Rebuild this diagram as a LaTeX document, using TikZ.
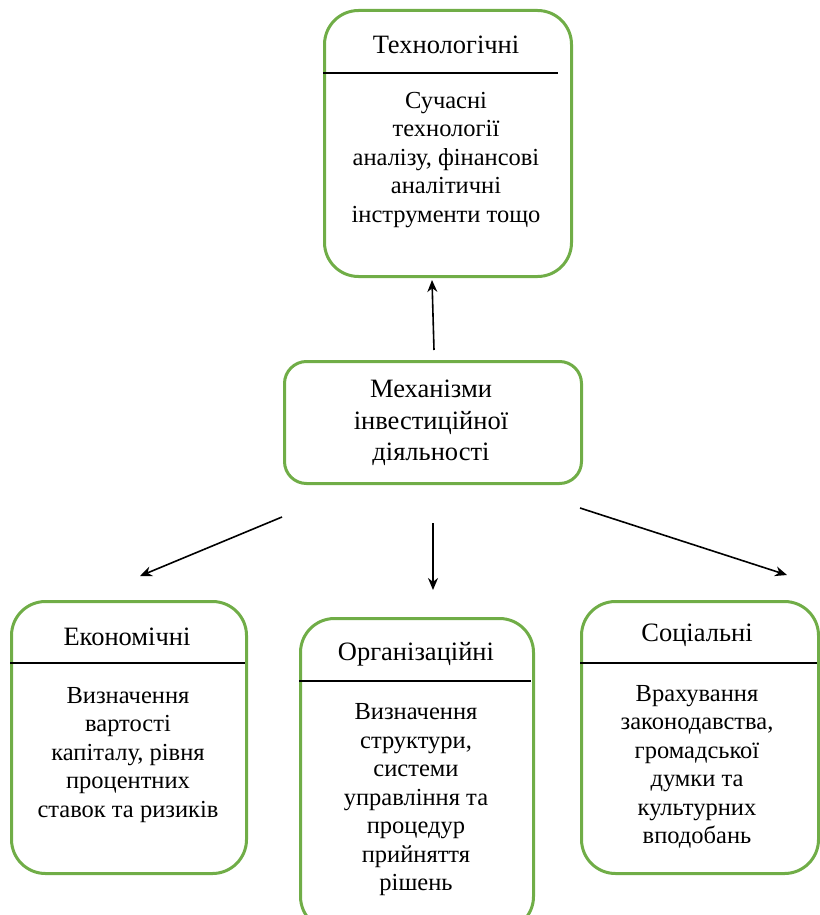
\documentclass[tikz,border=0pt]{standalone}
\usepackage{fontspec}
\setmainfont{Liberation Serif}
\usepackage{tikz}
\usetikzlibrary{arrows.meta}

\definecolor{boxgreen}{RGB}{112,173,71}

\tikzset{
  box/.style = {draw = boxgreen, line width = 3pt, rounded corners = 34pt, anchor = north west, inner sep = 0pt},
  txt/.style = {align = center, font = \fontsize{24.5}{28.5}\selectfont, inner sep = 0pt},
  ttl/.style = {txt, font = \fontsize{26.5}{30}\selectfont},
  sep/.style = {line width = 1.5pt},
  arr/.style = {line width = 1.6pt, -{Stealth[length = 12pt, width = 10pt]}}
}

\begin{document}
\begin{tikzpicture}[x = 1pt, y = -1pt]
\useasboundingbox (0,0) rectangle (819,915);
% boxes
\node[box, minimum width = 247pt, minimum height = 266pt] (tech) at (323,9) {};
\node[box, rounded corners = 22pt, minimum width = 297pt, minimum height = 122pt] (mech) at (283,360) {};
\node[box, minimum width = 235pt, minimum height = 272pt] (econ) at (10,600) {};
\node[box, minimum width = 233pt, minimum height = 312pt] (org) at (299,617) {};
\node[box, minimum width = 237pt, minimum height = 272pt] (soc) at (580,600) {};
% dividers
\draw[sep] (323,73) -- (558,73);
\draw[sep] (10,663) -- (245,663);
\draw[sep] (299,681) -- (531,681);
\draw[sep] (580,663) -- (817,663);
% texts
\node[ttl] (techT) at (446,45) {Технологічні};
\node[txt] (techB) at (446,160) {Сучасні\\технології\\аналізу, фінансові\\аналітичні\\інструменти тощо};
\node[ttl, font = \fontsize{26.5}{31.5}\selectfont] (mechT) at (431,423) {Механізми\\інвестиційної\\діяльності};
\node[ttl] (econT) at (127,637) {Економічні};
\node[txt] (econB) at (128,755) {Визначення\\вартості\\капіталу, рівня\\процентних\\ставок та ризиків};
\node[ttl] (orgT) at (416,654) {Організаційні};
\node[txt] (orgB) at (416,800) {Визначення\\структури,\\системи\\управління та\\процедур\\прийняття\\рішень};
\node[ttl] (socT) at (697,635) {Соціальні};
\node[txt] (socB) at (697,767) {Врахування\\законодавства,\\громадської\\думки та\\культурних\\вподобань};
% arrows
\coordinate (upS) at (434,350);
\coordinate (upE) at (432,280);
\coordinate (dnS) at (433,523);
\coordinate (dnE) at (433,590);
\coordinate (ltS) at (282,517);
\coordinate (ltE) at (140,576);
\coordinate (rtS) at (580,508);
\coordinate (rtE) at (787,575);
\draw[arr] (upS) -- (upE);
\draw[arr] (dnS) -- (dnE);
\draw[arr] (ltS) -- (ltE);
\draw[arr] (rtS) -- (rtE);
\end{tikzpicture}
\end{document}
